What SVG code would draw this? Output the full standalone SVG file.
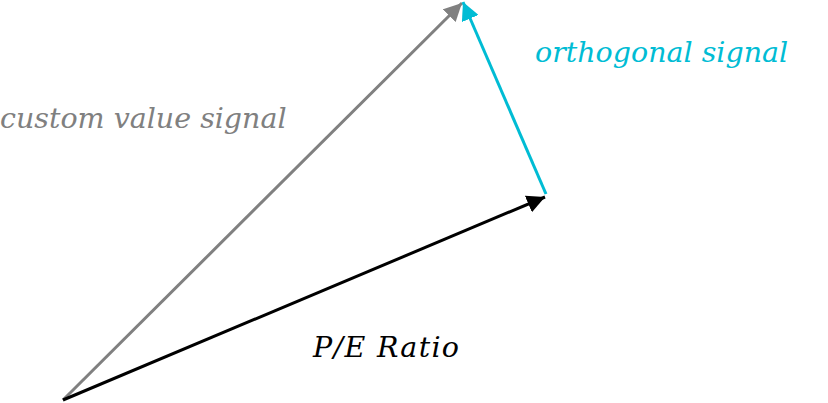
<svg xmlns="http://www.w3.org/2000/svg" width="828" height="403" viewBox="0 0 828 403">
<style>
.lbl{font-family:"DejaVu Serif","Liberation Serif",serif;font-style:italic;font-size:28.5px}
.edge{fill:none;stroke-width:3}
</style>
<defs>
<marker id="ahK" markerUnits="userSpaceOnUse" markerWidth="20" markerHeight="18" refX="18" refY="9" orient="auto"><path d="M0,0 L18,9 L0,18 Z" fill="#000"/></marker>
<marker id="ahG" markerUnits="userSpaceOnUse" markerWidth="20" markerHeight="18" refX="18" refY="9" orient="auto"><path d="M0,0 L18,9 L0,18 Z" fill="#808080"/></marker>
<marker id="ahC" markerUnits="userSpaceOnUse" markerWidth="20" markerHeight="18" refX="18" refY="9" orient="auto"><path d="M0,0 L18,9 L0,18 Z" fill="#00bcd4"/></marker>
</defs>
<g id="connectors">
<line class="edge" x1="63" y1="400" x2="462" y2="3" stroke="#808080" marker-end="url(#ahG)"/>
<line class="edge" x1="546" y1="194" x2="463" y2="2" stroke="#00bcd4" marker-end="url(#ahC)"/>
<line class="edge" x1="63" y1="400" x2="545" y2="197" stroke="#000" marker-end="url(#ahK)"/>
</g>
<g id="label-custom"><text class="lbl" x="0" y="128" fill="#808080">custom value signal</text></g>
<g id="label-orthogonal"><text class="lbl" x="535" y="62" fill="#00bcd4">orthogonal signal</text></g>
<g id="label-pe"><text class="lbl" x="313" y="357" fill="#000" textLength="146" lengthAdjust="spacing">P/E Ratio</text></g>
</svg>
